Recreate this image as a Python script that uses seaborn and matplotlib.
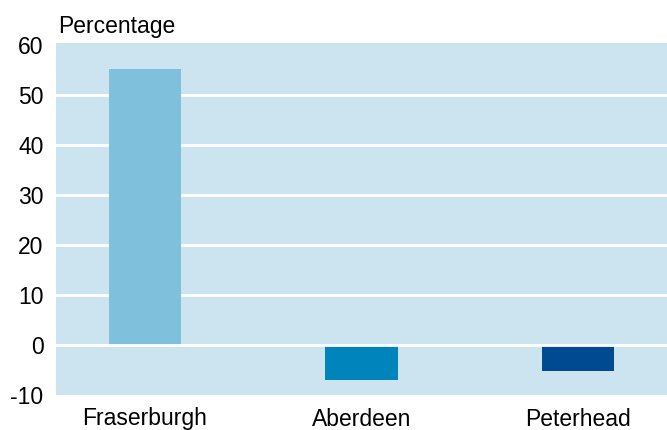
import pandas as pd
import matplotlib.pyplot as plt
import seaborn as sns

# Data
towns = ["Fraserburgh", "Aberdeen", "Peterhead"]
change = [55.3, -7.0, -5.2]
bar_colors = ["#7fc1dd", "#0084bc", "#004a91"]
yticks = [-10, 0, 10, 20, 30, 40, 50, 60]

df = pd.DataFrame({"town": towns, "change": change})

sns.set_style("white")
plt.rcParams['font.family'] = ['Liberation Sans', 'DejaVu Sans']
plt.rcParams['axes.unicode_minus'] = False

fig = plt.figure(figsize=(6.67, 4.3), dpi=100)
ax = fig.add_axes([56 / 667, 1 - 395 / 430, 1 - 56 / 667, (395 - 43) / 430])
ax.set_facecolor("#cce4f0")

sns.barplot(data=df, x="town", y="change", hue="town", palette=bar_colors,
            width=0.333, legend=False, ax=ax, zorder=2, saturation=1,
            linewidth=0)

for y in yticks[1:-1]:
    ax.axhline(y, color="white", lw=2, zorder=1)
ax.axhline(0, color="white", lw=2, zorder=3)

ax.set_ylim(-10, 60.5)
ax.set_xlim(-0.41, 2.41)
ax.set_yticks(yticks)
ax.tick_params(axis="both", length=0, labelsize=16.5, labelcolor="black")
ax.tick_params(axis="y", pad=9)
ax.tick_params(axis="x", pad=9)
ax.set_xlabel("")
ax.set_ylabel("")
for s in ax.spines.values():
    s.set_visible(False)

fig.text(58 / 667, 1 - 33 / 430, "Percentage", fontsize=16.5, ha="left",
         va="baseline", color="black")

plt.savefig("out.png", dpi=100)
